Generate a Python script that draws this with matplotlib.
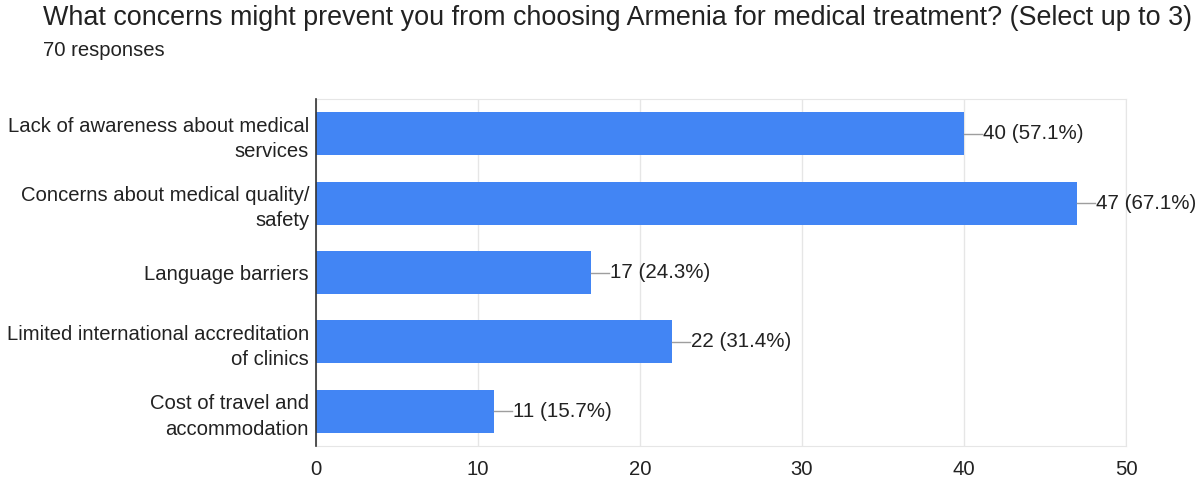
import matplotlib.pyplot as plt
import numpy as np

# Данные опроса
categories = [
    "Lack of awareness about medical\nservices",
    "Concerns about medical quality/\nsafety",
    "Language barriers",
    "Limited international accreditation\nof clinics",
    "Cost of travel and\naccommodation",
]
counts = [40, 47, 17, 22, 11]
percents = [57.1, 67.1, 24.3, 31.4, 15.7]
total = 70
title = "What concerns might prevent you from choosing Armenia for medical treatment? (Select up to 3)"

plt.rcParams['font.family'] = ['Liberation Sans', 'DejaVu Sans']

fig = plt.figure(figsize=(11.97, 4.8), dpi=100)
ax = fig.add_axes([0.264, 0.0708, 0.6767, 0.7229])

y = np.arange(len(categories))
ax.barh(y, counts, height=0.62, color='#4285f4', zorder=3)

# Подписи значений с короткой линией-выноской
for yi, c, p in zip(y, counts, percents):
    ax.plot([c, c + 1.1], [yi, yi], color='#9e9e9e', lw=1, zorder=3, clip_on=False)
    ax.text(c + 1.15, yi, f"{c} ({p}%)", va='center', ha='left',
            fontsize=14.8, color='#222222')

ax.set_xlim(0, 50)
ax.set_ylim(len(categories) - 0.5, -0.5)
ax.set_xticks([0, 10, 20, 30, 40, 50])
ax.set_yticks(y)
ax.set_yticklabels(categories, fontsize=14.6, color='#222222', linespacing=1.42)
ax.tick_params(axis='x', labelsize=14.6, labelcolor='#222222', length=0, pad=10)
ax.tick_params(axis='y', length=0, pad=5)
ax.grid(axis='x', color='#e6e6e6', lw=1, zorder=0)

for side in ['top', 'bottom', 'right']:
    ax.spines[side].set_color('#e6e6e6')
ax.spines['left'].set_color('#333333')
ax.spines['left'].set_linewidth(1.2)
ax.spines['left'].set_zorder(4)

fig.text(43 / 1197, 1 - 18 / 480, title, fontsize=19.4, color='#222222', va='center', ha='left')
fig.text(43 / 1197, 1 - 51 / 480, f"{total} responses", fontsize=14.6, color='#222222',
         va='center', ha='left')

fig.savefig('out.png', dpi=100)
